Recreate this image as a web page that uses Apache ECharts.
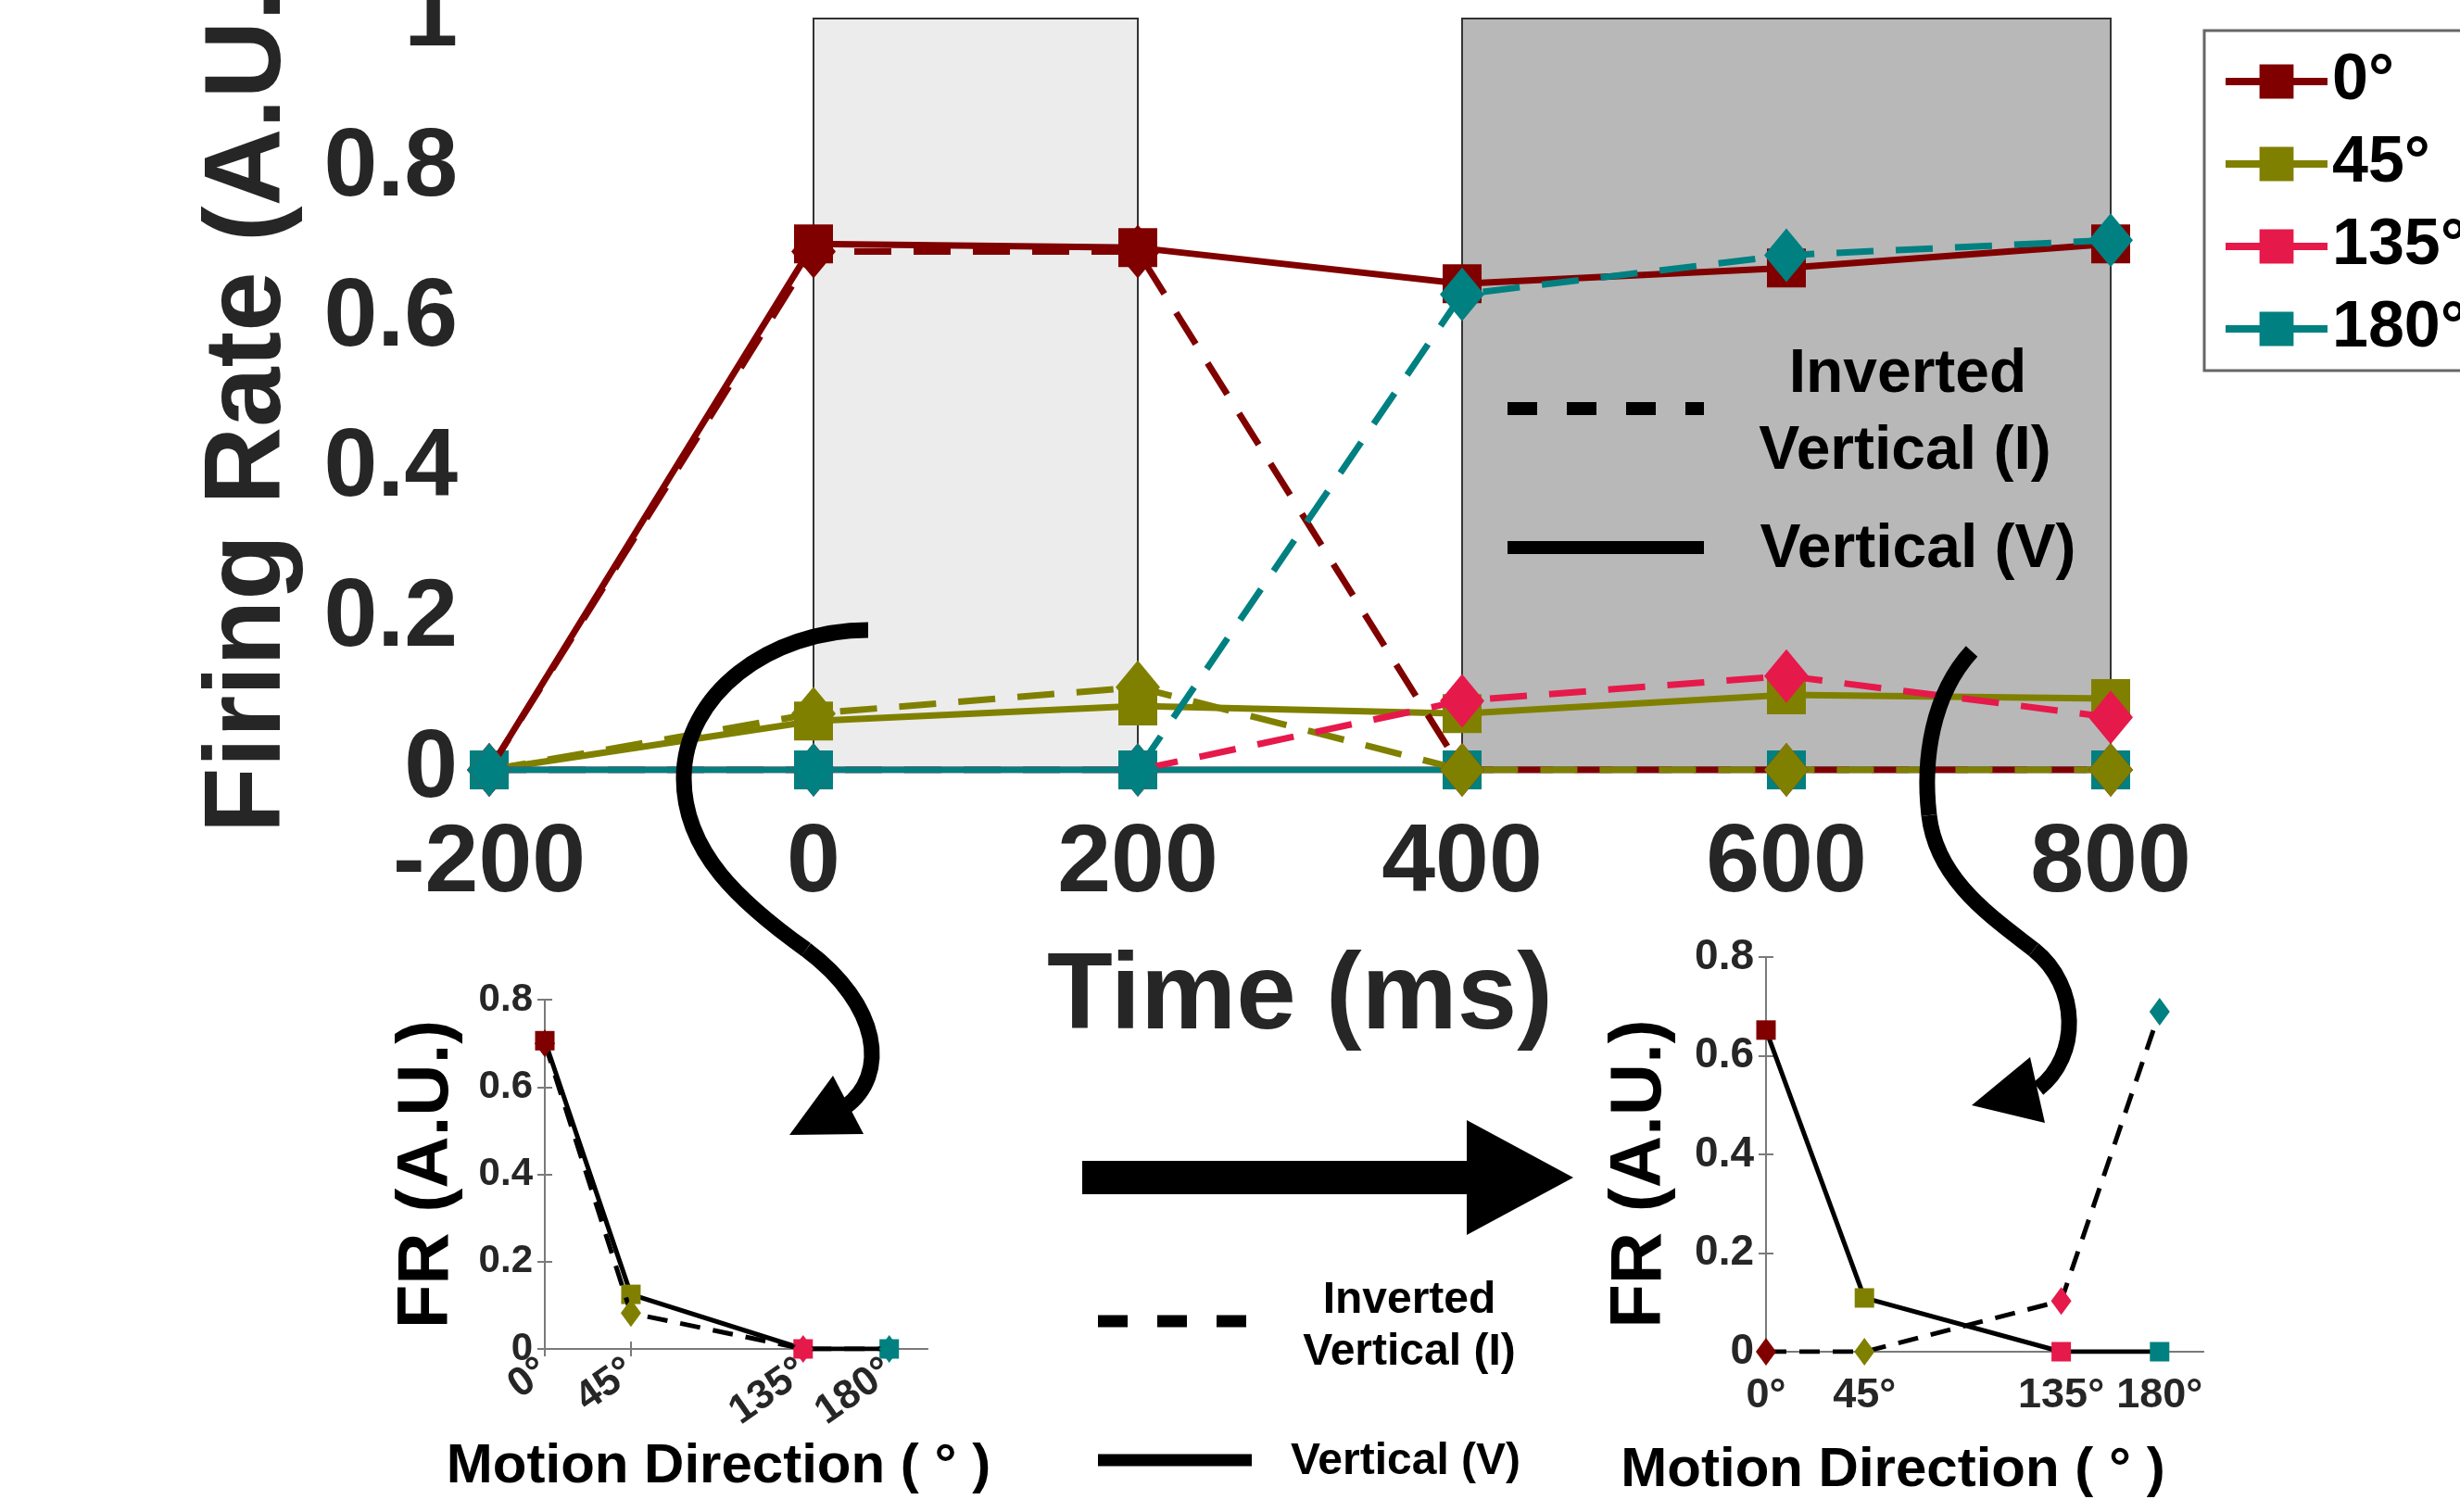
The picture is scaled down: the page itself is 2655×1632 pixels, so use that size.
<!DOCTYPE html>
<html><head><meta charset="utf-8">
<script src="https://cdn.jsdelivr.net/npm/echarts@6/dist/echarts.min.js"></script>
<style>html,body{margin:0;padding:0;background:#fff}#c{width:2655px;height:1632px}</style>
</head><body><div id="c"></div>
<script>
// ---- data ----
const times = [-200, 0, 200, 400, 600, 800];
const directions = ['0°', '45°', '135°', '180°'];
const dirColors = ['#800000', '#808000', '#e6194b', '#008080'];
// Vertical (V) condition, solid lines
const v0 = [0, 0.700, 0.695, 0.647, 0.668, 0.700];
const v45 = [0, 0.065, 0.085, 0.075, 0.100, 0.095];
const v135 = [0, 0, 0, 0, 0, 0];
const v180 = [0, 0, 0, 0, 0, 0];
// Inverted Vertical (I) condition, dashed lines
const i0 = [0, 0.690, 0.690, 0, 0, 0];
const i45 = [0, 0.075, 0.110, 0, 0, 0];
const i135 = [0, 0, 0, 0.092, 0.125, 0.070];
const i180 = [0, 0, 0, 0.633, 0.685, 0.705];
// tuning curves (insets)
const tuningAngles = [0, 45, 135, 180];
const tuningTickLabels = ['0°', '45°', '135°', '180°'];
const beforeV = [0.706, 0.125, 0, 0];
const beforeI = [0.700, 0.082, 0, 0];
const afterV = [0.652, 0.109, 0, 0];
const afterI = [0, 0, 0.103, 0.689];
// shaded epochs (ms)
const epochEarly = [0, 200];
const epochLate = [400, 800];

const FF = "'Liberation Sans', Arial, Helvetica, sans-serif";
const TICK = '#262626';

function mainSeries(name, vals, color, dashed, z, extra) {
  return Object.assign({
    type: 'line', name, xAxisIndex: 0, yAxisIndex: 0,
    data: times.map((t, k) => [t, vals[k]]),
    symbol: dashed ? 'diamond' : 'rect',
    symbolSize: dashed ? [48, 58] : 42,
    showSymbol: true, showAllSymbol: true,
    lineStyle: { color, width: 7, type: dashed ? [40, 24] : 'solid' },
    itemStyle: { color },
    z, silent: true, animation: false
  }, extra || {});
}

function insetSeries(xi, yi, vals, dashed, z) {
  return {
    type: 'line', xAxisIndex: xi, yAxisIndex: yi,
    data: tuningAngles.map((a, k) => ({ value: [a, vals[k]], itemStyle: { color: dirColors[k] } })),
    symbol: dashed ? 'diamond' : 'rect',
    symbolSize: dashed ? [22, 30] : 21,
    showSymbol: true, showAllSymbol: true,
    lineStyle: { color: '#000', width: 5, type: dashed ? [22, 14] : 'solid' },
    z, silent: true, animation: false
  };
}

const series = [
  mainSeries(directions[0], v0, dirColors[0], false, 2, {
    markArea: {
      silent: true,
      data: [
        [{ xAxis: epochEarly[0], yAxis: 0, itemStyle: { color: '#ececec', borderColor: '#333', borderWidth: 2 } }, { xAxis: epochEarly[1], yAxis: 1 }],
        [{ xAxis: epochLate[0], yAxis: 0, itemStyle: { color: '#b8b8b8', borderColor: '#333', borderWidth: 2 } }, { xAxis: epochLate[1], yAxis: 1 }]
      ]
    }
  }),
  mainSeries(directions[1], v45, dirColors[1], false, 2),
  mainSeries(directions[2], v135, dirColors[2], false, 2),
  mainSeries(directions[3], v180, dirColors[3], false, 2),
  mainSeries(directions[0] + ' I', i0, dirColors[0], true, 3),
  mainSeries(directions[1] + ' I', i45, dirColors[1], true, 3),
  mainSeries(directions[2] + ' I', i135, dirColors[2], true, 3),
  mainSeries(directions[3] + ' I', i180, dirColors[3], true, 3),
  insetSeries(1, 1, beforeV, false, 2),
  insetSeries(1, 1, beforeI, true, 3),
  insetSeries(3, 3, afterV, false, 2),
  insetSeries(3, 3, afterI, true, 3)
];

function insetAxes(gi, labelSize, rotate, margin, nameGapX, nameShift, yNameGap, yNameShift, yLabelSize) {
  const boxLine = { show: true, lineStyle: { color: '#7a7a7a', width: 2 } };
  const xs = [{
    type: 'value', gridIndex: gi, min: 0, max: 200, position: 'bottom',
    axisLine: boxLine,
    axisTick: { show: true, inside: true, length: 8, customValues: tuningAngles, lineStyle: { color: '#7a7a7a', width: 2 } },
    axisLabel: { show: true, customValues: tuningAngles, formatter: v => tuningTickLabels[tuningAngles.indexOf(v)],
      rotate, margin, fontSize: labelSize, fontWeight: 'bold', color: TICK, fontFamily: FF },
    splitLine: { show: false },
    name: 'Motion Direction ( ° )', nameLocation: 'middle', nameGap: nameGapX,
    nameTextStyle: { fontSize: 60, fontWeight: 'bold', color: '#000', fontFamily: FF, padding: [0, nameShift, 0, 0] }
  }, {
    type: 'value', gridIndex: gi, min: 0, max: 200, position: 'top',
    axisLine: boxLine,
    axisTick: { show: true, inside: true, length: 8, customValues: tuningAngles, lineStyle: { color: '#7a7a7a', width: 2 } },
    axisLabel: { show: false }, splitLine: { show: false }
  }];
  const ys = [{
    type: 'value', gridIndex: gi, min: 0, max: 0.8, interval: 0.2, position: 'left',
    axisLine: boxLine,
    axisTick: { show: true, inside: true, length: 8, lineStyle: { color: '#7a7a7a', width: 2 } },
    axisLabel: { margin: 13, fontSize: yLabelSize, fontWeight: 'bold', color: TICK, fontFamily: FF },
    splitLine: { show: false },
    name: 'FR (A.U.)', nameLocation: 'middle', nameGap: yNameGap,
    nameTextStyle: { fontSize: 78, fontWeight: 'bold', color: '#000', fontFamily: FF, padding: [0, yNameShift, 0, 0] }
  }, {
    type: 'value', gridIndex: gi, min: 0, max: 0.8, interval: 0.2, position: 'right',
    axisLine: boxLine,
    axisTick: { show: true, inside: true, length: 8, lineStyle: { color: '#7a7a7a', width: 2 } },
    axisLabel: { show: false }, splitLine: { show: false }
  }];
  return { xs, ys };
}

const insetL = insetAxes(1, 44, 35, 20, 97, 38, 88, 0, 42);
const insetR = insetAxes(2, 45, 0, 25, 98, 198, 97, 42, 46);

const textEl = (x, y, text, size, align) => ({
  type: 'text', x, y, z: 100,
  style: { text, fontSize: size, fontWeight: 'bold', fill: '#000', fontFamily: FF, align: align || 'center', verticalAlign: 'middle' }
});
const curve = (p) => ({
  type: 'bezierCurve', z: 100,
  shape: { x1: p[0], y1: p[1], cpx1: p[2], cpy1: p[3], cpx2: p[4], cpy2: p[5], x2: p[6], y2: p[7] },
  style: { fill: 'none', stroke: '#000', lineWidth: 17, lineCap: 'butt' }
});

const option = {
  animation: false,
  backgroundColor: '#fff',
  textStyle: { fontFamily: FF },
  grid: [
    { left: 528, top: 20, width: 1750, height: 811, containLabel: false, outerBoundsMode: 'none' },
    { left: 588, top: 1079, width: 413, height: 377, containLabel: false, outerBoundsMode: 'none' },
    { left: 1906, top: 1033, width: 472, height: 426, containLabel: false, outerBoundsMode: 'none' }
  ],
  xAxis: [
    {
      type: 'value', gridIndex: 0, min: -200, max: 800, interval: 200,
      axisLine: { show: true, onZero: false, lineStyle: { color: TICK, width: 2 } },
      axisTick: { show: true, inside: true, length: 12, lineStyle: { color: TICK, width: 2 } },
      axisLabel: { margin: 50, fontSize: 104, fontWeight: 'bold', color: TICK, fontFamily: FF, showMinLabel: true, showMaxLabel: true },
      splitLine: { show: false },
      name: 'Time (ms)', nameLocation: 'middle', nameGap: 189,
      nameTextStyle: { fontSize: 116, fontWeight: 'bold', color: TICK, fontFamily: FF }
    },
    insetL.xs[0], insetL.xs[1], insetR.xs[0], insetR.xs[1]
  ],
  yAxis: [
    {
      type: 'value', gridIndex: 0, min: 0, max: 1, interval: 0.2,
      axisLine: { show: true, lineStyle: { color: TICK, width: 2 } },
      axisTick: { show: true, inside: true, length: 12, lineStyle: { color: TICK, width: 2 } },
      axisLabel: { margin: 34, fontSize: 104, fontWeight: 'bold', color: TICK, fontFamily: FF, showMinLabel: true, showMaxLabel: true },
      splitLine: { show: false },
      name: 'Firing Rate (A.U.)', nameLocation: 'middle', nameGap: 200,
      nameTextStyle: { fontSize: 116, fontWeight: 'bold', color: TICK, fontFamily: FF }
    },
    insetL.ys[0], insetL.ys[1], insetR.ys[0], insetR.ys[1]
  ],
  legend: {
    data: directions, orient: 'vertical', left: 2393, top: 48, z: 20,
    itemWidth: 110, itemHeight: 46, itemGap: 19, selectedMode: false,
    textStyle: { fontSize: 70, fontWeight: 'bold', color: '#000', fontFamily: FF, lineHeight: 70 },
    lineStyle: { width: 8 }
  },
  graphic: [
    { type: 'rect', z: 10, shape: { x: 2379, y: 33, width: 340, height: 367 }, style: { fill: '#fff', stroke: '#666', lineWidth: 3 } },
    // inline legend in main plot
    { type: 'line', z: 100, shape: { x1: 1627, y1: 441, x2: 1839, y2: 441 }, style: { stroke: '#000', lineWidth: 14, lineDash: [32, 32] } },
    textEl(2059, 405, 'Inverted', 66),
    textEl(2056, 488, 'Vertical (I)', 66),
    { type: 'line', z: 100, shape: { x1: 1627, y1: 591, x2: 1839, y2: 591 }, style: { stroke: '#000', lineWidth: 14 } },
    textEl(2070, 594, 'Vertical (V)', 66),
    // bottom legend
    { type: 'line', z: 100, shape: { x1: 1185, y1: 1426, x2: 1346, y2: 1426 }, style: { stroke: '#000', lineWidth: 13, lineDash: [32, 32] } },
    textEl(1521, 1404, 'Inverted', 48),
    textEl(1521, 1460, 'Vertical (I)', 48),
    { type: 'line', z: 100, shape: { x1: 1185, y1: 1576, x2: 1351, y2: 1576 }, style: { stroke: '#000', lineWidth: 13 } },
    textEl(1517, 1578, 'Vertical (V)', 48),
    // big arrow
    { type: 'polygon', z: 100, shape: { points: [[1168, 1253], [1583, 1253], [1583, 1209], [1698, 1271], [1583, 1333], [1583, 1289], [1168, 1289]] }, style: { fill: '#000' } },
    // curved arrows
    curve([937, 680, 830, 680, 738, 750, 738, 840]),
    curve([738, 840, 738, 920, 800, 975, 870, 1025]),
    curve([870, 1025, 950, 1085, 960, 1160, 912, 1195]),
    { type: 'polygon', z: 100, shape: { points: [[852, 1225], [899, 1161], [932, 1224]] }, style: { fill: '#000' } },
    curve([2128, 703, 2085, 750, 2075, 820, 2082, 880]),
    curve([2082, 880, 2090, 950, 2150, 990, 2195, 1025]),
    curve([2195, 1025, 2245, 1065, 2245, 1140, 2200, 1175]),
    { type: 'polygon', z: 100, shape: { points: [[2128, 1193], [2191, 1141], [2207, 1212]] }, style: { fill: '#000' } }
  ],
  series
};

const chart = echarts.init(document.getElementById('c'), null, { renderer: 'canvas' });
chart.setOption(option);
</script>
</body></html>
